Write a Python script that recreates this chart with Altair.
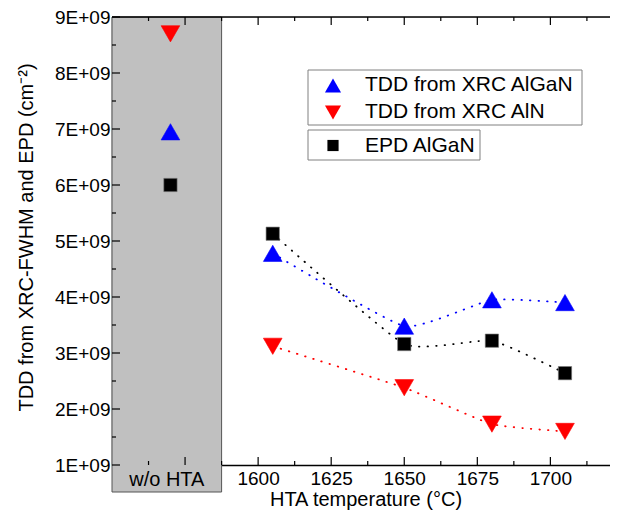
import altair as alt
import pandas as pd

# ---- data ----
temps = [1605, 1650, 1680, 1705]
xrc_algan = [4.78e9, 3.48e9, 3.95e9, 3.90e9]
xrc_aln = [3.12e9, 2.38e9, 1.73e9, 1.60e9]
epd_algan = [5.13e9, 3.16e9, 3.22e9, 2.64e9]

wo_hta_x = [1570]
wo_xrc_algan = [6.95e9]
wo_xrc_aln = [8.70e9]
wo_epd_algan = [6.00e9]

legend_labels = ["TDD from XRC AlGaN", "TDD from XRC AlN", "EPD AlGaN"]
x_title = "HTA temperature (°C)"
y_title = "TDD from XRC-FWHM and EPD (cm⁻²)"
x_tick_labels = [1600, 1625, 1650, 1675, 1700]
x_major_ticks = [1575, 1600, 1625, 1650, 1675, 1700]
x_minor_ticks = [1562.5, 1587.5, 1612.5, 1637.5, 1662.5, 1687.5, 1712.5]
y_major_ticks = [1e9, 2e9, 3e9, 4e9, 5e9, 6e9, 7e9, 8e9, 9e9]
y_minor_ticks = [1.5e9, 2.5e9, 3.5e9, 4.5e9, 5.5e9, 6.5e9, 7.5e9, 8.5e9]
wo_region = [1550, 1587.5]
wo_label = "w/o HTA"

W, H = 498, 448
FONT = "Liberation Sans"
XDOM = [1550, 1720.4]
YDOM = [1e9, 9e9]

xaxis = alt.Axis(values=x_tick_labels, format="d", ticks=False, grid=False,
                 domainColor="black", domainWidth=1.3, labelFontSize=19,
                 labelColor="black", labelPadding=4, labelFont=FONT, title=None)
yaxis = alt.Axis(values=y_major_ticks, labelExpr="format(datum.value/1e9,'d') + 'E+09'",
                 ticks=False, grid=False, domainColor="black", domainWidth=1.3,
                 labelFontSize=19, labelColor="black", labelPadding=2, labelFont=FONT,
                 title=y_title, titleFontSize=20, titleFont=FONT,
                 titleFontWeight="normal", titleColor="black",
                 titleX=-80, titleY=220, titleBaseline="alphabetic", titleAlign="center", titleAngle=270)


def X(field, **kw):
    return alt.X(field, type="quantitative", scale=alt.Scale(domain=XDOM, nice=False, zero=False), axis=xaxis, **kw)


def Y(field, **kw):
    return alt.Y(field, type="quantitative", scale=alt.Scale(domain=YDOM, nice=False, zero=False), axis=yaxis, **kw)


# grey "w/o HTA" region (extends below the x axis as a label box)
region_df = pd.DataFrame({"x": [wo_region[0]], "x2": [wo_region[1]], "y": [YDOM[1]]})
region = alt.Chart(region_df).mark_rect(fill="#c0c0c0", stroke="#555555", strokeWidth=1, clip=False).encode(
    x=X("x"), x2="x2", y=Y("y"), y2=alt.value(H + 27)
)
region_text = alt.Chart(pd.DataFrame({"x": [sum(wo_region) / 2], "t": [wo_label]})).mark_text(
    fontSize=20, font=FONT, color="black", baseline="alphabetic", align="center", clip=False
).encode(x=X("x"), y=alt.value(H + 21), text="t:N")

# x axis title
x_title_layer = alt.Chart(pd.DataFrame({"t": [x_title]})).mark_text(
    fontSize=20, font=FONT, color="black", baseline="alphabetic", align="center", clip=False
).encode(x=alt.value(254), y=alt.value(H + 41), text="t:N")

# top frame line
top_rule = alt.Chart(pd.DataFrame({"a": [0]})).mark_rule(color="black", strokeWidth=1.3).encode(
    x=alt.value(0), x2=alt.value(W), y=alt.value(0)
)


# inward ticks
def xticks(vals, length):
    df = pd.DataFrame({"x": vals})
    bottom = alt.Chart(df).mark_rule(color="black", strokeWidth=1.2).encode(
        x=X("x"), y=alt.value(H), y2=alt.value(H - length))
    top = alt.Chart(df).mark_rule(color="black", strokeWidth=1.2).encode(
        x=X("x"), y=alt.value(0), y2=alt.value(length))
    return [bottom, top]


def yticks(vals, length):
    df = pd.DataFrame({"y": vals})
    return [alt.Chart(df).mark_rule(color="black", strokeWidth=1.2).encode(
        y=Y("y"), x=alt.value(0), x2=alt.value(length))]


tick_layers = xticks(x_major_ticks, 8) + xticks(x_minor_ticks, 4) + yticks(y_major_ticks, 8) + yticks(y_minor_ticks, 4)


def series(vals, wo_val, color, shape, size):
    df = pd.DataFrame({"x": temps, "y": vals})
    line = alt.Chart(df).mark_line(color=color, strokeWidth=1.8, strokeDash=[0.5, 8.0],
                                   strokeCap="round", interpolate="cardinal", tension=0.55).encode(x=X("x"), y=Y("y"))
    pts = alt.Chart(pd.DataFrame({"x": temps + wo_hta_x, "y": vals + wo_val})).mark_point(
        shape=shape, filled=True, color=color, size=size, opacity=1,
        stroke="#777777" if color == "black" else color, strokeWidth=0.6
    ).encode(x=X("x"), y=Y("y"))
    return [line, pts]


series_layers = (series(epd_algan, wo_epd_algan, "black", "square", 177)
                 + series(xrc_algan, wo_xrc_algan, "#0000ff", "triangle-up", 350)
                 + series(xrc_aln, wo_xrc_aln, "#ff0000", "triangle-down", 350))

# legend (two boxes)
one = pd.DataFrame({"a": [0]})
box1 = alt.Chart(one).mark_rect(fill="white", stroke="#808080", strokeWidth=1).encode(
    x=alt.value(196), x2=alt.value(470), y=alt.value(53), y2=alt.value(108))
box2 = alt.Chart(one).mark_rect(fill="white", stroke="#808080", strokeWidth=1).encode(
    x=alt.value(196), x2=alt.value(368), y=alt.value(113), y2=alt.value(143))

legend_rows = [
    (legend_labels[0], "#0000ff", "triangle-up", 260, 68.5, 74),
    (legend_labels[1], "#ff0000", "triangle-down", 260, 95.5, 100.5),
    (legend_labels[2], "black", "square", 125, 128.5, 135),
]
legend_layers = [box1, box2]
for lab, col, shp, sz, ys, yt in legend_rows:
    d = pd.DataFrame({"t": [lab]})
    legend_layers.append(alt.Chart(d).mark_point(shape=shp, filled=True, color=col, size=sz, opacity=1).encode(
        x=alt.value(221), y=alt.value(ys)))
    legend_layers.append(alt.Chart(d).mark_text(fontSize=21, font=FONT, align="left", baseline="alphabetic",
                                                color="black").encode(
        x=alt.value(253), y=alt.value(yt), text="t:N"))

chart = alt.layer(region, region_text, x_title_layer, top_rule, *tick_layers, *series_layers, *legend_layers).properties(
    width=W, height=H,
    autosize=alt.AutoSizeParams(type="none"),
    padding={"left": 104, "top": 9, "right": 0, "bottom": 45},
).configure_view(strokeWidth=0).configure(font=FONT, background="white")

chart.save("out.html", embed_options={"renderer": "svg", "actions": False})
